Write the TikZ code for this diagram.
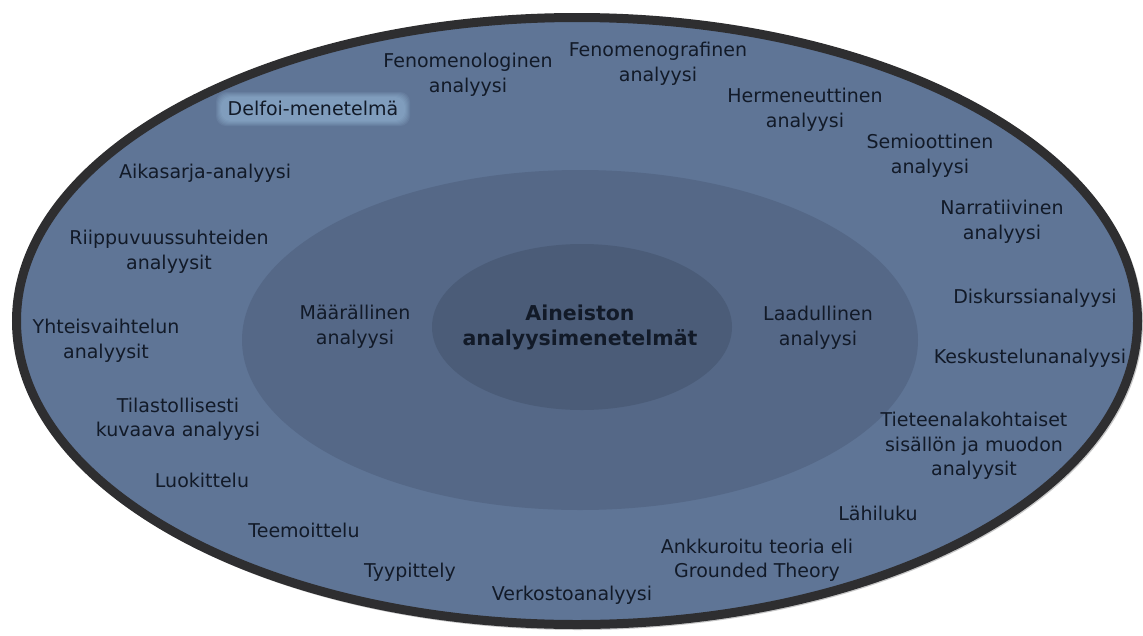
\documentclass[tikz,border=0pt]{standalone}
\usepackage{fontspec}
\setmainfont{DejaVu Sans}
\definecolor{outerfill}{RGB}{95,117,150}
\definecolor{midfill}{RGB}{85,104,135}
\definecolor{innerfill}{RGB}{75,92,120}
\definecolor{rimcol}{RGB}{46,46,48}
\definecolor{txt}{RGB}{18,26,40}
\definecolor{glowcol}{RGB}{175,215,245}
\tikzset{
  lbl/.style={text=txt, align=center, font=\fontsize{19}{24.5}\selectfont, inner sep=0pt},
}
\begin{document}
\begin{tikzpicture}[x=1pt,y=-1pt]
\useasboundingbox (0,0) rectangle (1143,635);
% rim shadow and outer ellipse
\fill[rimcol!60, opacity=0.45] (578.5,322.5) ellipse [x radius=564.5, y radius=307.5];
\draw[rimcol, line width=9pt, fill=outerfill] (577,321) ellipse [x radius=560.5, y radius=303.5];
\fill[midfill] (580,340) ellipse [x radius=338, y radius=170];
\fill[innerfill] (582,327) ellipse [x radius=150, y radius=83];
\node[lbl, font=\fontsize{20.5}{25}\selectfont\bfseries] (center) at (580,327) {Aineiston\\analyysimenetelmät};
\node[lbl] (maar) at (355,327) {Määrällinen\\analyysi};
\node[lbl] (laad) at (818,328) {Laadullinen\\analyysi};
% glow for Delfoi
\foreach \g in {0,1,2,3,4,5}
  \fill[glowcol, opacity=0.09, rounded corners=10pt] (221-\g,97-\g) rectangle (405+\g,121+\g);
\node[lbl] (delfoi) at (313,108) {Delfoi-menetelmä};
\node[lbl] (fenlog) at (468,75) {Fenomenologinen\\analyysi};
\node[lbl] (fengraf) at (658,64) {Fenomenografinen\\analyysi};
\node[lbl] (herm) at (805,110) {Hermeneuttinen\\analyysi};
\node[lbl] (semi) at (930,156) {Semioottinen\\analyysi};
\node[lbl] (aika) at (205,173) {Aikasarja-analyysi};
\node[lbl] (narr) at (1002,222) {Narratiivinen\\analyysi};
\node[lbl] (riip) at (169,252) {Riippuvuussuhteiden\\analyysit};
\node[lbl] (disk) at (1035,298) {Diskurssianalyysi};
\node[lbl] (yht) at (106,341) {Yhteisvaihtelun\\analyysit};
\node[lbl] (kesk) at (1030,358) {Keskustelunanalyysi};
\node[lbl] (tilast) at (178,419) {Tilastollisesti\\kuvaava analyysi};
\node[lbl] (tiet) at (974,446) {Tieteenalakohtaiset\\sisällön ja muodon\\analyysit};
\node[lbl] (luok) at (202,480) {Luokittelu};
\node[lbl] (lahi) at (878,513) {Lähiluku};
\node[lbl] (teem) at (304,530) {Teemoittelu};
\node[lbl] (ankk) at (757,560) {Ankkuroitu teoria eli\\Grounded Theory};
\node[lbl] (tyyp) at (410,572) {Tyypittely};
\node[lbl] (verk) at (572,595) {Verkostoanalyysi};
\end{tikzpicture}
\end{document}
